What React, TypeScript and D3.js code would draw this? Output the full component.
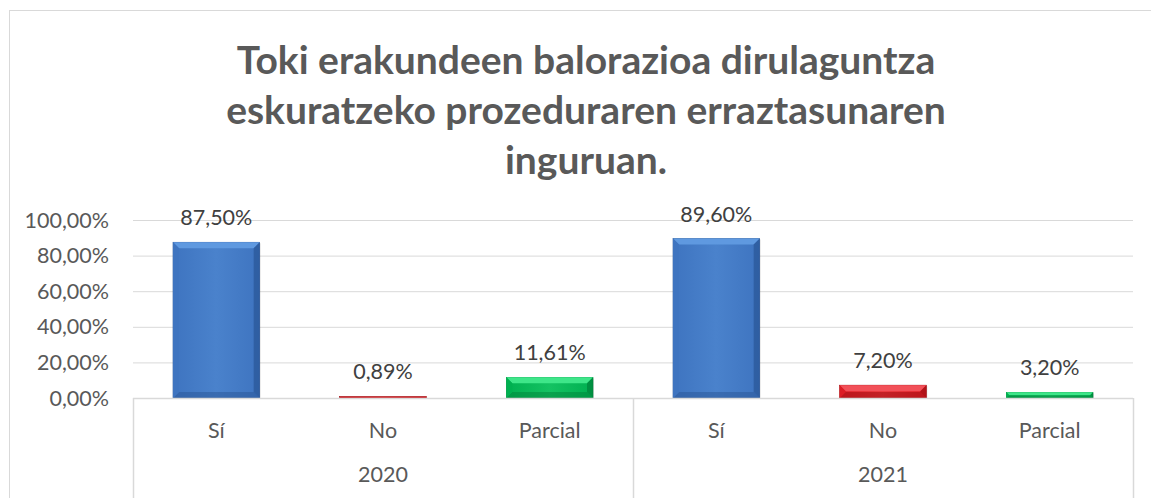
import React from "react";
import * as d3 from "d3";

const years = ["2020", "2021"];
const answers = ["Sí", "No", "Parcial"];
const values2020 = [0.875, 0.0089, 0.1161];
const values2021 = [0.896, 0.072, 0.032];
const valueLabels2020 = ["87,50%", "0,89%", "11,61%"];
const valueLabels2021 = ["89,60%", "7,20%", "3,20%"];
const yTicks = [0, 0.2, 0.4, 0.6, 0.8, 1.0];
const titleLines = [
  "Toki erakundeen balorazioa dirulaguntza",
  "eskuratzeko prozeduraren erraztasunaren",
  "inguruan.",
];

const W = 1151;
const H = 498;
const FONT = "Lato, 'Open Sans', sans-serif";
const FS = 21.5;

const palette: Record<string, { main: string; light: string; dark: string; mid: string }> = {
  "Sí": { main: "#3e74c0", light: "#5f99e0", dark: "#2a5595", mid: "#4a82cc" },
  No: { main: "#dc1c24", light: "#f25058", dark: "#9e0e12", mid: "#e8343a" },
  Parcial: { main: "#00b050", light: "#3ee689", dark: "#00813a", mid: "#14c262" },
};

type Datum = { key: string; year: string; answer: string; value: number; label: string };

const data: Datum[] = [];
years.forEach((yr, yi) => {
  const vals = yi === 0 ? values2020 : values2021;
  const labs = yi === 0 ? valueLabels2020 : valueLabels2021;
  answers.forEach((a, ai) => {
    data.push({ key: `${yr}-${a}`, year: yr, answer: a, value: vals[ai], label: labs[ai] });
  });
});

export default function App() {
  const left = 133;
  const right = 1133;
  const base = 398;
  const top = 220;

  const x = d3.scaleBand<string>().domain(data.map((d) => d.key)).range([left, right]).padding(0);
  const y = d3.scaleLinear().domain([0, 1]).range([base, top]);
  const yearScale = d3.scaleBand<string>().domain(years).range([left, right]).padding(0);
  const bw = x.bandwidth();
  const barW = bw * 0.52;
  const fmt = (v: number) => d3.format(".2f")(v * 100).replace(".", ",") + "%";

  return (
    <svg
      width={W}
      height={H}
      style={{ position: "absolute", left: 0, top: 0, background: "#fff" }}
      fontFamily={FONT}
    >
      <defs>
        {answers.map((a) => (
          <linearGradient key={a} id={`g-${a === "Sí" ? "si" : a}`} x1="0" x2="1" y1="0" y2="0">
            <stop offset="0" stopColor={palette[a].main} />
            <stop offset="0.5" stopColor={palette[a].mid} />
            <stop offset="1" stopColor={palette[a].main} />
          </linearGradient>
        ))}
      </defs>
      <rect x={9.5} y={10.5} width={W + 10} height={H + 10} fill="#fff" stroke="#d9d9d9" />

      {titleLines.map((t, i) => (
        <text
          key={i}
          x={586}
          y={74 + i * 50}
          textAnchor="middle"
          fontSize={39}
          fontWeight={700}
          fill="#595959"
        >
          {t}
        </text>
      ))}

      {yTicks.map((t) => (
        <g key={t}>
          {t > 0 && (
            <line x1={left} x2={right} y1={y(t) + 0.5} y2={y(t) + 0.5} stroke="#d9d9d9" strokeWidth={1} />
          )}
          <text x={109} y={y(t) + 7.5} textAnchor="end" fontSize={FS} fill="#595959">
            {fmt(t)}
          </text>
        </g>
      ))}

      {data.map((d) => {
        const bx = (x(d.key) as number) + (bw - barW) / 2;
        const by = y(d.value);
        const h = base - by;
        const p = palette[d.answer];
        const b = Math.min(6, h / 2);
        const id = `g-${d.answer === "Sí" ? "si" : d.answer}`;
        return (
          <g key={d.key}>
            <rect x={bx + 1} y={by + 1} width={barW} height={h} fill="#000" opacity={0.12} />
            <rect x={bx} y={by} width={barW} height={h} fill={`url(#${id})`} stroke={p.dark} strokeWidth={0.6} />
            {h > 3 && (
              <>
                <polygon
                  points={`${bx},${by} ${bx + barW},${by} ${bx + barW - b},${by + b} ${bx + b},${by + b}`}
                  fill={p.light}
                />
                <polygon
                  points={`${bx + barW},${by} ${bx + barW},${base} ${bx + barW - b},${base - b} ${bx + barW - b},${by + b}`}
                  fill={p.dark}
                  opacity={0.7}
                />
                <polygon
                  points={`${bx},${base} ${bx + barW},${base} ${bx + barW - b},${base - b} ${bx + b},${base - b}`}
                  fill={p.dark}
                  opacity={0.5}
                />
                <polygon
                  points={`${bx},${by} ${bx + b},${by + b} ${bx + b},${base - b} ${bx},${base}`}
                  fill={p.main}
                />
              </>
            )}
            <text
              x={(x(d.key) as number) + bw / 2}
              y={by - 17}
              textAnchor="middle"
              fontSize={FS}
              fill="#404040"
            >
              {d.label}
            </text>
            <text
              x={(x(d.key) as number) + bw / 2}
              y={438}
              textAnchor="middle"
              fontSize={FS}
              fill="#595959"
            >
              {d.answer}
            </text>
          </g>
        );
      })}

      <line x1={left} x2={right} y1={base + 0.5} y2={base + 0.5} stroke="#d9d9d9" strokeWidth={1.5} />
      {[left, (left + right) / 2, right].map((vx) => (
        <line key={vx} x1={vx + 0.5} x2={vx + 0.5} y1={base} y2={H} stroke="#d9d9d9" strokeWidth={1.5} />
      ))}
      {years.map((yr) => (
        <text
          key={yr}
          x={(yearScale(yr) as number) + yearScale.bandwidth() / 2}
          y={482}
          textAnchor="middle"
          fontSize={FS}
          fill="#595959"
        >
          {yr}
        </text>
      ))}
    </svg>
  );
}
